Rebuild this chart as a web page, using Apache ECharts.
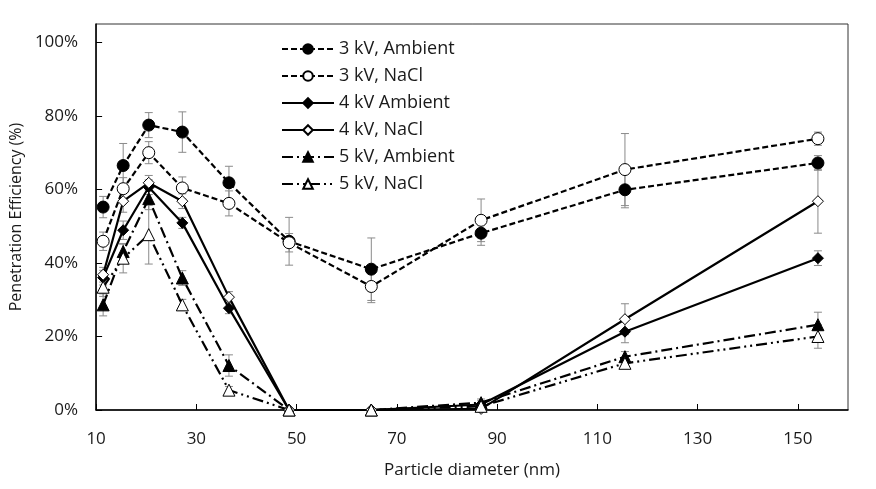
<!DOCTYPE html>
<html>
<head>
<meta charset="utf-8">
<script src="https://cdn.jsdelivr.net/npm/echarts@6/dist/echarts.min.js"></script>
<style>html,body{margin:0;padding:0;background:#fff}#c{width:876px;height:489px}</style>
</head>
<body>
<div id="c"></div>
<script>
const diameters = [11.4, 15.4, 20.5, 27.2, 36.5, 48.5, 64.9, 86.8, 115.5, 154];
const amb3 = [55.2, 66.5, 77.5, 75.6, 61.8, 45.9, 38.3, 48.1, 59.9, 67.2];
const amb3Err = [2.9, 6, 3.4, 5.5, 4.5, 6.5, 8.5, 3.3, 4.9, 2];
const nacl3 = [45.9, 60.2, 70, 60.4, 56.2, 45.5, 33.6, 51.6, 65.4, 73.8];
const nacl3Err = [2.5, 3, 3, 3, 3.4, 2.5, 4.4, 5.8, 9.8, 1.8];
const amb4 = [36, 48.9, 60.6, 50.9, 27.7, 0, 0, 1.5, 21.3, 41.3];
const amb4Err = [2, 2.5, 2, 1.5, 1.5, 0, 0, 1, 3, 2];
const nacl4 = [36.8, 56.8, 61.8, 56.8, 30.7, 0, 0, 0.3, 24.7, 56.8];
const nacl4Err = [2, 3, 2, 2, 1.5, 0, 0, 0.5, 4.2, 8.7];
const amb5 = [28.6, 43.1, 57.5, 35.9, 12.1, 0, 0, 2, 14.5, 23.2];
const amb5Err = [3, 2, 3, 2, 2.9, 0, 0, 1, 1.4, 3.4];
const nacl5 = [33.4, 41.3, 47.7, 28.6, 5.4, 0, 0, 1, 12.7, 20];
const nacl5Err = [2.5, 4, 8, 1.5, 1, 0, 0, 1, 1.3, 3.2];
const names = ['3 kV, Ambient', '3 kV, NaCl', '4 kV Ambient', '4 kV, NaCl', '5 kV, Ambient', '5 kV, NaCl'];
const xTitle = 'Particle diameter (nm)';
const yTitle = 'Penetration Efficiency (%)';

const FONT = 'Open Sans';
const TXT = '#1a1a1a';

function pts(vals) { return diameters.map((d, i) => [d, vals[i]]); }
function errs(vals, e) { return diameters.map((d, i) => [d, vals[i] - e[i], vals[i] + e[i]]); }

const lineDefs = [
  {name: names[0], vals: amb3, err: amb3Err, symbol: 'circle', size: 12, fill: '#000', dash: [6, 3]},
  {name: names[1], vals: nacl3, err: nacl3Err, symbol: 'circle', size: 12, fill: '#fff', dash: [6, 3]},
  {name: names[2], vals: amb4, err: amb4Err, symbol: 'diamond', size: 11, fill: '#000', dash: 'solid'},
  {name: names[3], vals: nacl4, err: nacl4Err, symbol: 'diamond', size: 11, fill: '#fff', dash: 'solid'},
  {name: names[4], vals: amb5, err: amb5Err, symbol: 'triangle', size: 12, fill: '#000', dash: [11, 4, 2, 4]},
  {name: names[5], vals: nacl5, err: nacl5Err, symbol: 'triangle', size: 12, fill: '#fff', dash: [11, 4, 2, 4, 2, 4]}
];

function errRender(params, api) {
  const x = api.value(0), lo = api.value(1), hi = api.value(2);
  if (hi - lo < 0.01) return null;
  const a = api.coord([x, hi]), b = api.coord([x, lo]);
  const st = {stroke: '#8a8a8a', lineWidth: 1};
  const cw = 4;
  return {type: 'group', children: [
    {type: 'line', shape: {x1: a[0], y1: a[1], x2: b[0], y2: b[1]}, style: st},
    {type: 'line', shape: {x1: a[0] - cw, y1: a[1], x2: a[0] + cw, y2: a[1]}, style: st},
    {type: 'line', shape: {x1: b[0] - cw, y1: b[1], x2: b[0] + cw, y2: b[1]}, style: st}
  ]};
}

const series = [];
lineDefs.forEach(d => {
  series.push({
    type: 'custom', name: d.name + ' err', renderItem: errRender,
    data: errs(d.vals, d.err), encode: {x: 0, y: [1, 2]}, z: 1, silent: true
  });
});
lineDefs.forEach(d => {
  series.push({
    type: 'line', name: d.name, data: pts(d.vals), symbol: d.symbol, symbolSize: d.size,
    showAllSymbol: true, z: 3,
    lineStyle: {color: '#000', width: 2.2, type: d.dash},
    itemStyle: {color: d.fill, borderColor: '#000', borderWidth: 1, opacity: 1},
    emphasis: {disabled: true}, animation: false
  });
});

const chart = echarts.init(document.getElementById('c'), null, {renderer: 'canvas'});
chart.setOption({
  animation: false,
  backgroundColor: '#fff',
  grid: {left: 88, right: 28, top: 24, bottom: 79, show: true, borderColor: '#333', borderWidth: 1},
  legend: {
    data: names, orient: 'vertical', left: 276, top: 35, itemWidth: 52, itemHeight: 12, itemGap: 9,
    textStyle: {fontFamily: FONT, fontSize: 18, color: TXT}, selectedMode: false
  },
  xAxis: {
    type: 'value', min: 10, max: 160, interval: 20,
    name: xTitle, nameLocation: 'middle', nameGap: 52,
    nameTextStyle: {fontFamily: FONT, fontSize: 17, color: TXT},
    axisLine: {show: true, lineStyle: {color: '#000', width: 1.5}},
    axisTick: {show: true, inside: true, length: 6, lineStyle: {color: '#000'}},
    axisLabel: {fontFamily: FONT, fontSize: 17, color: TXT, margin: 21, showMaxLabel: false,
      formatter: v => (v > 150 ? '' : String(v))},
    splitLine: {show: false}
  },
  yAxis: {
    type: 'value', min: 0, max: 105, interval: 20,
    name: yTitle, nameLocation: 'middle', nameGap: 66, nameRotate: 90,
    nameTextStyle: {fontFamily: FONT, fontSize: 16, color: TXT},
    axisLine: {show: true, lineStyle: {color: '#000', width: 1.5}},
    axisTick: {show: true, inside: true, length: 6, lineStyle: {color: '#000'}},
    axisLabel: {fontFamily: FONT, fontSize: 17, color: TXT, margin: 18, showMaxLabel: false,
      formatter: v => (v > 100 ? '' : v + '%')},
    splitLine: {show: false}
  },
  series: series
});
</script>
</body>
</html>
